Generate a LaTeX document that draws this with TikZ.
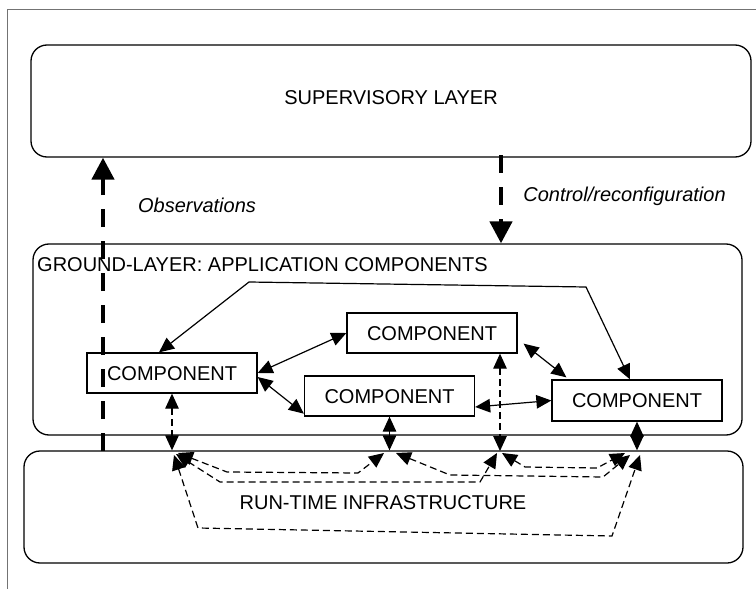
\documentclass[tikz,border=0pt]{standalone}
\usepackage{fontspec}
\setmainfont{Liberation Sans}
\usetikzlibrary{arrows.meta}
\definecolor{framegray}{gray}{0.45}

\begin{document}
\begin{tikzpicture}[x=1pt,y=-1pt,
  every node/.style={font=\fontsize{20pt}{24pt}\selectfont},
  layerbox/.style={draw=black, line width=1.3pt, rounded corners=16pt, inner sep=0pt},
  compbox/.style={draw=black, line width=1.3pt, inner sep=0pt, minimum width=170pt,
    minimum height=40pt, text height=14.3pt, text depth=0pt},
  lbl/.style={inner sep=0pt, anchor=base},
  note/.style={lbl, font=\fontsize{20pt}{24pt}\selectfont\itshape},
  link/.style={line width=1.2pt, >={Triangle[length=15pt,width=13.5pt]}, <->},
  rtlink/.style={link, dash pattern=on 7pt off 4pt},
  bigdash/.style={line width=4.5pt, dash pattern=on 18pt off 14pt,
    >={Triangle[length=22pt,width=22pt]}, ->}]

\useasboundingbox (0,0) rectangle (756,589);

% page frame
\draw[framegray, line width=0.8pt] (7,589) -- (7,9) -- (756,9);

% the three layers
\node[layerbox, minimum width=720pt, minimum height=112pt] (sup) at (391,101) {};
\node[layerbox, minimum width=709pt, minimum height=191pt] (ground) at (387.5,339.5) {};
\node[layerbox, minimum width=719pt, minimum height=112pt] (rti) at (383.5,507) {};

\node[lbl] (suptext) at (391,104) {SUPERVISORY LAYER};
\node[lbl, anchor=base west] (groundtext) at (37,271) {GROUND-LAYER: APPLICATION COMPONENTS};
\node[lbl] (rtitext) at (383,509) {RUN-TIME INFRASTRUCTURE};

% observation / control flows between layers
\node[note] (obs) at (197,212.5) {Observations};
\node[note] (ctrl) at (624.5,201) {Control/reconfiguration};
\coordinate (obsfoot) at (103,451);
\coordinate (ctrltop) at (501,155);
\draw[bigdash] (obsfoot) -- (obsfoot |- sup.south);
\draw[bigdash] (ctrltop) -- (ctrltop |- ground.north);

% application components
\node[compbox] (cL) at (172,373) {COMPONENT};
\node[compbox] (cMT) at (432,333) {COMPONENT};
\node[compbox] (cMB) at (389.5,396) {COMPONENT};
\node[compbox, minimum height=41pt] (cR) at (637,400.5) {COMPONENT};

% interactions among components
\draw[link] (cL.east) -- (cMT.west);
\draw[link] ([yshift=-4pt]cL.east) -- ([yshift=3pt]cMB.south west);
\draw[link] ([xshift=6pt,yshift=10pt]cMT.south east) -- ([xshift=15pt,yshift=2pt]cR.north west);
\draw[link] ([yshift=-11pt]cMB.east) -- (cR.west);
\coordinate (bendL) at (249,282);
\coordinate (bendR) at (586,287);
\draw[link] ([xshift=-13pt]cL.north) -- (bendL) -- (bendR) -- ([xshift=-7pt]cR.north);

% attachment points on the infrastructure
\coordinate (pL) at (cL.south |- rti.north);
\coordinate (pMB) at (cMB.south |- rti.north);
\coordinate (pMT) at (500,451);
\coordinate (pR) at (cR.south |- rti.north);

\draw[rtlink] (cL.south) -- (pL);
\draw[rtlink] (cMB.south) -- (pMB);
\draw[rtlink] (pMT |- cMT.south) -- (pMT);
\draw[rtlink] (cR.south) -- (pR);

% routes through the run-time infrastructure
\coordinate (aS) at (178,453);  \coordinate (aE) at (384,453);
\coordinate (bS) at (176,454);  \coordinate (bE) at (497,453);
\coordinate (cS) at (174,455);  \coordinate (cE) at (640,455);
\coordinate (dS) at (396,453);  \coordinate (dE) at (630,455);
\coordinate (eS) at (502,453);  \coordinate (eE) at (625,453);

\draw[rtlink] (aS) -- (227,472) -- (358,473) -- (aE);
\draw[rtlink] (bS) -- (220,482) -- (480,482) -- (bE);
\draw[rtlink] (cS) -- (198,528) -- (612,536) -- (cE);
\draw[rtlink] (dS) -- (450,475) -- (603,477) -- (dE);
\draw[rtlink] (eS) -- (525,467) -- (597,468) -- (eE);
\end{tikzpicture}
\end{document}
